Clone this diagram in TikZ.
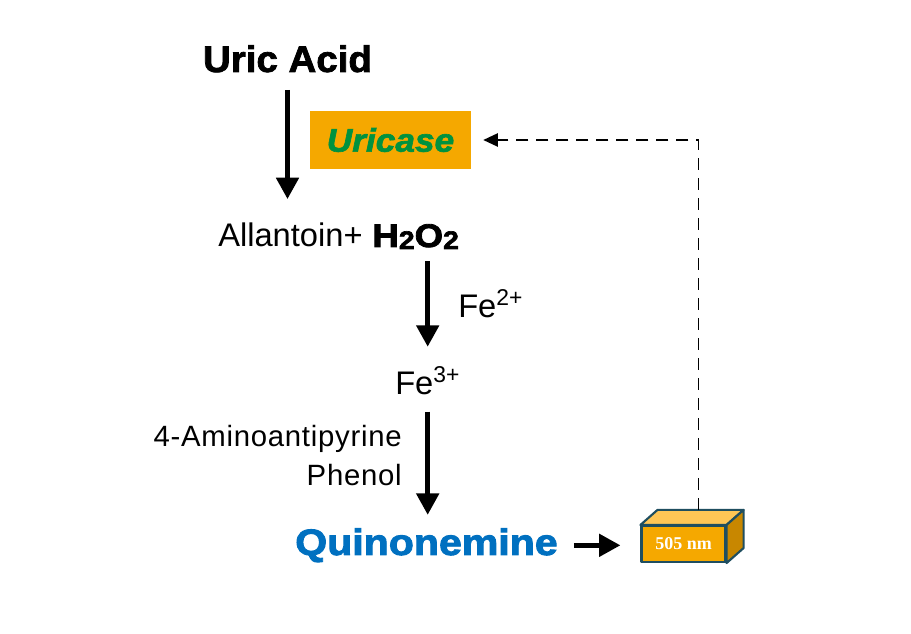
\documentclass[tikz,border=0pt]{standalone}
\usepackage{fontspec}
\setmainfont{Liberation Sans}
\newfontfamily\heavyfont[FakeBold=2,FakeStretch=1.04]{Liberation Sans Bold}
\newfontfamily\wideheavyfont[FakeBold=2.5,FakeStretch=1.12]{Liberation Sans Bold}
\newfontfamily\heavyitfont[FakeBold=2,FakeStretch=1.08]{Liberation Sans Bold Italic}
\newfontfamily\spacedfont[LetterSpace=2.5]{Liberation Sans}
\newfontfamily\cubefont{Liberation Serif Bold}
\usetikzlibrary{calc,arrows.meta}
\definecolor{enzorange}{RGB}{245,168,0}
\definecolor{enzgreen}{RGB}{0,146,63}
\definecolor{quinblue}{RGB}{0,112,192}
\definecolor{cubetop}{RGB}{255,198,85}
\definecolor{cubeside}{RGB}{200,135,0}
\definecolor{cubeedge}{RGB}{31,78,96}

\begin{document}
\begin{tikzpicture}[x=0.75pt,y=-0.75pt,
  flow/.style={draw=black,line width=3.6pt,-{Triangle[length=16pt,width=16.5pt]}},
  feedback/.style={draw=black,line width=1.2pt,dash pattern=on 9pt off 6pt,
    -{Triangle[length=11pt,width=10pt]}},
  chem/.style={inner sep=0pt,font=\fontsize{24.5}{28}\selectfont},
  reagent/.style={inner sep=0pt,font=\spacedfont\fontsize{22}{26}\selectfont},
  cubeface/.style={draw=cubeedge,line width=1.6pt,line join=round}]
\useasboundingbox (0,0) rectangle (911,634);
% main reaction chain
\node[inner sep=0pt,anchor=base,font=\heavyfont\fontsize{27.75}{30}\selectfont]
  (uric) at (287.5,72) {Uric Acid};
\node[fill=enzorange,minimum width=120.75pt,minimum height=43.5pt,inner sep=0pt,
  text=enzgreen,font=\heavyitfont\fontsize{24.5}{28}\selectfont]
  (enz) at (390.5,140) {Uricase};
\node[chem,anchor=base west] (allan) at (218,247)
  {Allantoin+\hspace{0.3em}{\wideheavyfont H\raisebox{-0.06em}{\fontsize{19}{20}\selectfont 2}O\raisebox{-0.06em}{\fontsize{19}{20}\selectfont 2}}};
\node[chem,anchor=base west] (fe2) at (458,318) {Fe\textsuperscript{2+}};
\node[chem,anchor=base west] (fe3) at (395,395) {Fe\textsuperscript{3+}};
\node[reagent,anchor=base east] (amino) at (402,447) {4-Aminoantipyrine};
\node[reagent,anchor=base east] (phenol) at (402,486) {Phenol};
\node[inner sep=0pt,anchor=base west,text=quinblue,font=\wideheavyfont\fontsize{27.5}{30}\selectfont]
  (quin) at (295,555) {Quinonemine};
% detector cube, front face first
\node[cubeface,fill=enzorange,minimum width=63pt,minimum height=27pt,inner sep=0pt,
  text=white,font=\cubefont\fontsize{13.5}{15}\selectfont] (det) at (683.5,544) {505 nm};
\draw[cubeface,fill=cubetop] (det.north west) -- ++(17,-15)
  -- ($(det.north east)+(17,-15)$) -- (det.north east) -- cycle;
\draw[cubeface,fill=cubeside] (det.north east) -- ++(17,-15)
  -- ($(det.south east)+(17,-15)$) -- (det.south east) -- cycle;
% arrows
\draw[flow,shorten <=13pt,shorten >=18pt] (uric.south) -- (uric.south |- allan.north);
\draw[flow,shorten <=9pt,shorten >=15pt] (fe3.north |- allan.south) -- (fe3.north);
\draw[flow,shorten <=12pt,shorten >=10pt] (fe3.south) -- (fe3.south |- quin.north);
\draw[flow,shorten <=12pt,shorten >=15pt] (quin.east) -- (quin.east -| det.west);
\draw[feedback] ($(det.north)+(15,-15)$) |- ($(enz.east)+(12,0)$);
\end{tikzpicture}
\end{document}
